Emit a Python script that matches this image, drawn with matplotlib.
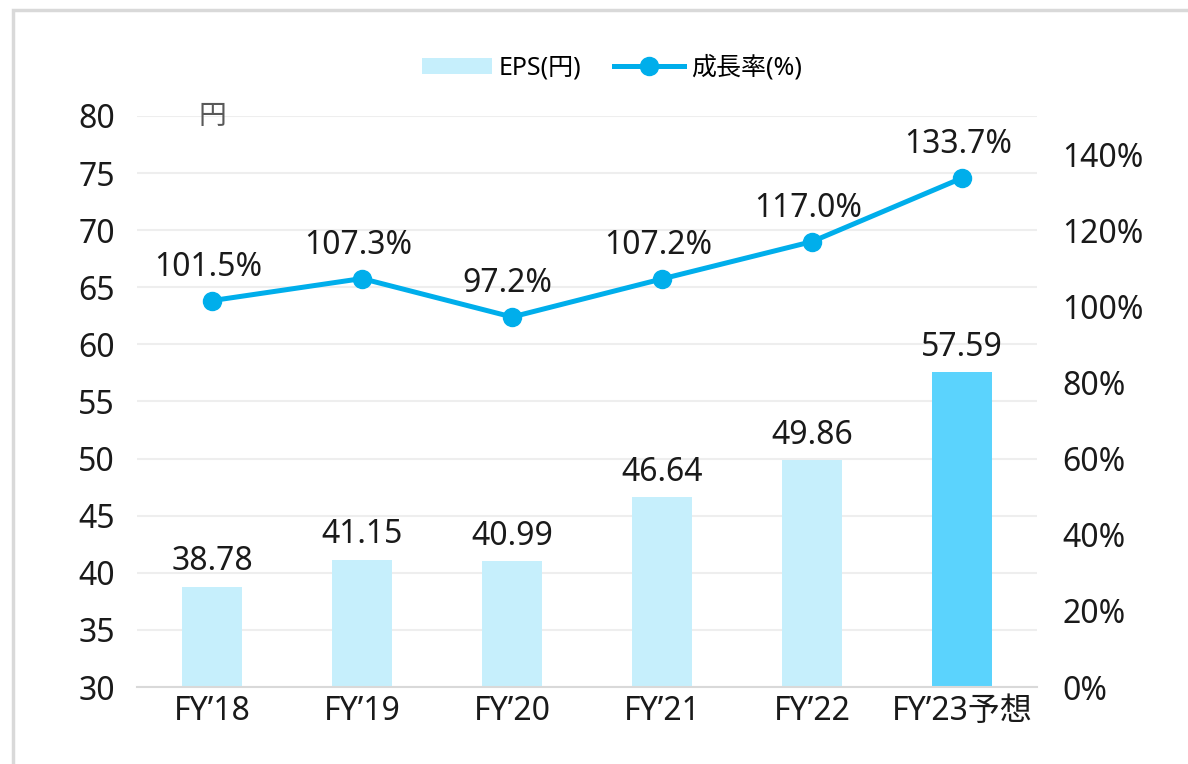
import numpy as np
import matplotlib.pyplot as plt
from matplotlib.patches import Rectangle

plt.rcParams['font.family'] = ['Noto Sans', 'Noto Sans CJK JP', 'DejaVu Sans']

years = ["FY’18", "FY’19", "FY’20", "FY’21", "FY’22", "FY’23予想"]
eps = [38.78, 41.15, 40.99, 46.64, 49.86, 57.59]
growth = [101.5, 107.3, 97.2, 107.2, 117.0, 133.7]

light = '#C6EFFC'
dark = '#5BD3FD'
line_c = '#00AEEB'

fig = plt.figure(figsize=(11.88, 7.64), dpi=100)
ax = fig.add_axes([137/1188, 1 - 687/764, 900/1188, 571/764])
ax2 = ax.twinx()

x = np.arange(len(years))
colors = [light] * (len(years) - 1) + [dark]
bars = ax.bar(x, eps, width=0.4, color=colors, zorder=2, label='EPS(円)')
ax.set_ylim(30, 80)
ax.set_xlim(-0.5, len(years) - 0.5)
ax.set_yticks(np.arange(30, 81, 5))
ax.grid(axis='y', color='#EEEEEE', linewidth=1.5, zorder=0)
ax.set_axisbelow(True)
for s in ['top', 'right', 'left']:
    ax.spines[s].set_visible(False)
ax.spines['bottom'].set_color('#D9D9D9')
ax.spines['bottom'].set_linewidth(1.5)
ax.tick_params(axis='both', length=0, labelsize=23, colors='#1A1A1A')
ax.tick_params(axis='y', pad=16)
ax.tick_params(axis='x', pad=6)
ax.set_xticks(x)
ax.set_xticklabels(years)

for xi, v in zip(x, eps):
    ax.annotate(f'{v:.2f}', (xi, v), xytext=(0, 6), textcoords='offset points',
                ha='center', va='bottom', fontsize=23, color='#1A1A1A')

ax2.plot(x, growth, color=line_c, linewidth=3.6, marker='o', markersize=13,
         label='成長率(%)', zorder=3)
ax2.set_ylim(0, 150)
ax2.set_yticks(np.arange(0, 141, 20))
ax2.set_yticklabels([f'{t}%' for t in range(0, 141, 20)])
for s in ['top', 'right', 'left', 'bottom']:
    ax2.spines[s].set_visible(False)
ax2.tick_params(axis='y', length=0, labelsize=23, colors='#1A1A1A', pad=18)

for xi, v in zip(x, growth):
    ax2.annotate(f'{v:.1f}%', (xi, v), xytext=(-3, 12), textcoords='offset points',
                 ha='center', va='bottom', fontsize=23, color='#1A1A1A')

ax.text(0.0, 80, '円', ha='center', va='center', fontsize=20, color='#595959',
        family='Noto Sans CJK JP')

h1, l1 = ax.get_legend_handles_labels()
h2, l2 = ax2.get_legend_handles_labels()
fig.legend(h1 + h2, l1 + l2, loc='center', bbox_to_anchor=(612/1188, 1 - 68/764),
           ncol=2, frameon=False, fontsize=18, handlelength=2.8, handleheight=0.6,
           columnspacing=1.3, handletextpad=0.3)

fig.patches.append(Rectangle((13/1188, -0.05), 1.2, 1 - 10/764 + 0.05,
                             transform=fig.transFigure, fill=False,
                             edgecolor='#D9D9D9', linewidth=2.5))

fig.savefig('out.png', dpi=100)
